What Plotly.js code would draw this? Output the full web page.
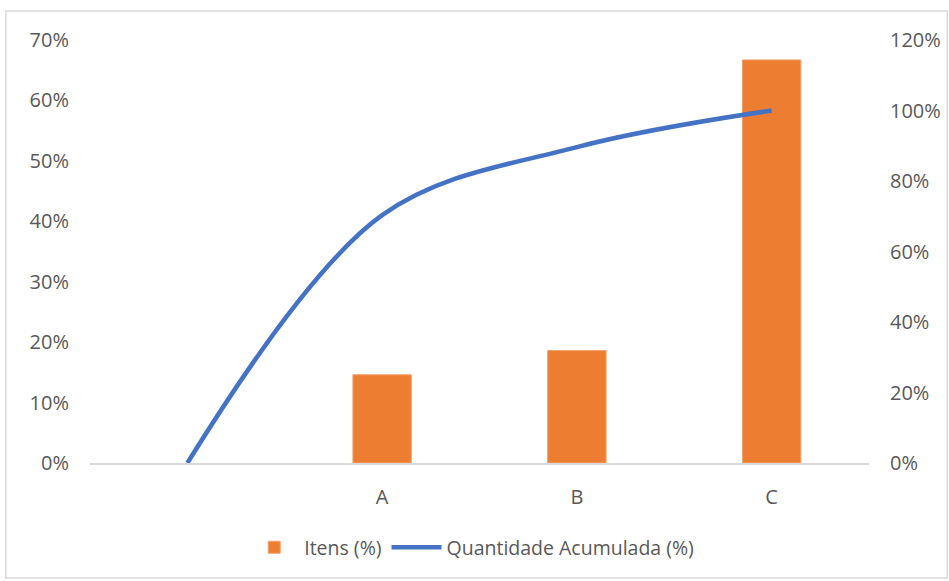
<!DOCTYPE html>
<html>
<head>
<meta charset="utf-8">
<script src="https://cdn.plot.ly/plotly-3.0.1.min.js"></script>
<style>
html,body{margin:0;padding:0;background:#fff;}
#chart{width:949px;height:581px;}
</style>
</head>
<body>
<div id="chart"></div>
<script>
// Data
const categories = ["", "A", "B", "C"];
const barCategories = ["A", "B", "C"];
const itensPct = [0.146, 0.186, 0.667];
const lineCategories = ["", "A", "B", "C"];
const quantidadeAcumulada = [0.0, 0.703, 0.896, 1.0];
const leftTicks = [0, 0.1, 0.2, 0.3, 0.4, 0.5, 0.6, 0.7];
const rightTicks = [0, 0.2, 0.4, 0.6, 0.8, 1.0, 1.2];

const idx = c => categories.indexOf(c);
const tickFont = {family: "Open Sans, Noto Sans, sans-serif", size: 20, color: "#595959"};
const legendFont = {family: "Open Sans, Noto Sans, sans-serif", size: 19.5, color: "#595959"};

const traces = [
  {
    type: "bar",
    name: "Itens (%)",
    x: barCategories.map(idx),
    y: itensPct,
    width: 0.3,
    marker: {color: "#ED7D31", line: {color: "#F4A06A", width: 1}},
    yaxis: "y",
    hoverinfo: "y"
  },
  {
    type: "scatter",
    mode: "lines",
    name: "Quantidade Acumulada (%)",
    x: lineCategories.map(idx),
    y: quantidadeAcumulada,
    line: {color: "#4472C4", width: 4.5, shape: "spline", smoothing: 1},
    yaxis: "y2"
  }
];

const layout = {
  width: 949,
  height: 581,
  margin: {l: 89.5, r: 79.5, t: 40, b: 118},
  paper_bgcolor: "#ffffff",
  plot_bgcolor: "#ffffff",
  font: tickFont,
  showlegend: true,
  legend: {
    orientation: "h",
    x: 0.49, xanchor: "center",
    y: -0.2, yanchor: "middle",
    font: legendFont,
    itemwidth: 50,
    traceorder: "normal"
  },
  xaxis: {
    range: [-0.5, categories.length - 0.5],
    tickvals: categories.map((c, i) => i),
    ticktext: categories,
    showgrid: false,
    zeroline: false,
    showline: true,
    linecolor: "#d9d9d9",
    linewidth: 1.5,
    ticks: "",
    ticklabelstandoff: 15,
    tickfont: tickFont,
    fixedrange: true
  },
  yaxis: {
    range: [0, 0.7],
    tickvals: leftTicks,
    tickformat: ".0%",
    showgrid: false,
    zeroline: false,
    showline: false,
    ticks: "",
    ticklabelstandoff: 20,
    tickfont: tickFont
  },
  yaxis2: {
    range: [0, 1.2],
    tickvals: rightTicks,
    tickformat: ".0%",
    overlaying: "y",
    side: "right",
    showgrid: false,
    zeroline: false,
    showline: false,
    ticks: "",
    ticklabelstandoff: 20,
    tickfont: tickFont
  },
  shapes: [
    {
      type: "rect", xref: "paper", yref: "paper",
      x0: -0.108, x1: 1.1006, y0: -0.272, y1: 1.0686,
      line: {color: "#d9d9d9", width: 1.5},
      fillcolor: "rgba(0,0,0,0)",
      layer: "below"
    }
  ]
};

Plotly.newPlot("chart", traces, layout, {displayModeBar: false, staticPlot: true});
</script>
</body>
</html>
